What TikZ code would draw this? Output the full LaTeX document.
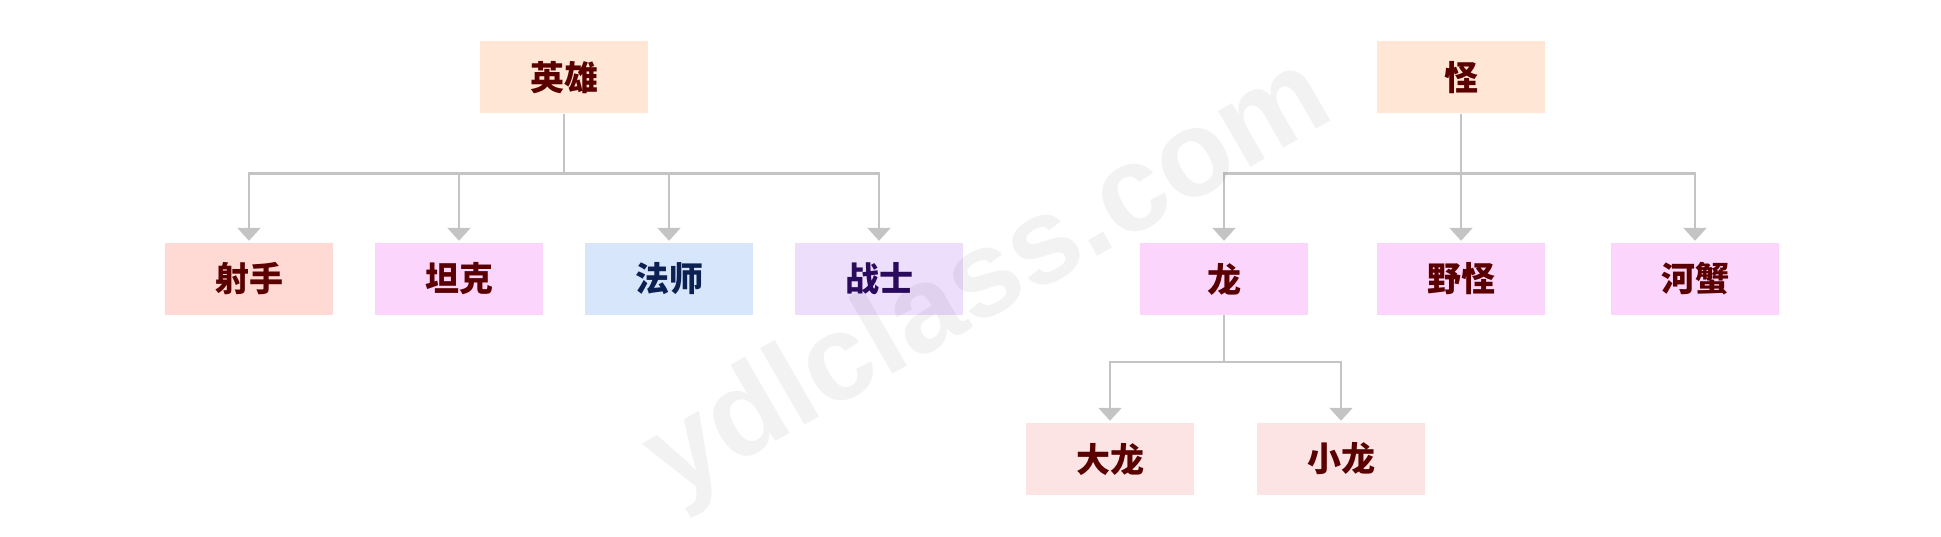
\documentclass[tikz,border=0pt]{standalone}
\usepackage{fontspec}
\newfontfamily\cjk{Noto Sans CJK SC}
\newfontfamily\wmfont{Liberation Sans}
\usetikzlibrary{arrows.meta}
\definecolor{peach}{RGB}{255,230,213}
\definecolor{salmon}{RGB}{255,218,213}
\definecolor{pinkm}{RGB}{252,213,252}
\definecolor{lblue}{RGB}{216,230,252}
\definecolor{lviolet}{RGB}{237,222,252}
\definecolor{lrose}{RGB}{253,228,228}
\definecolor{tred}{RGB}{90,0,0}
\definecolor{tnavy}{RGB}{12,32,82}
\definecolor{tpurple}{RGB}{42,10,92}
\definecolor{conn}{RGB}{196,196,196}
\begin{document}
\begin{tikzpicture}[x=1pt,y=-1pt,
  box/.style={minimum width=168pt,minimum height=72pt,inner sep=0pt,
    font=\cjk\bfseries\fontsize{34}{34}\selectfont,text=tred},
  link/.style={draw=conn,line width=2.5pt,
    -{Triangle[width=23pt,length=13pt]},shorten >=2pt}]
\useasboundingbox (0,0) rectangle (1941,537);
\node[box,fill=peach] (hero) at (564,77.5) {英雄};
\node[box,fill=peach] (mon) at (1461,77.5) {怪};
\node[box,fill=salmon] (shooter) at (249,279) {射手};
\node[box,fill=pinkm] (tank) at (459,279) {坦克};
\node[box,fill=lblue,text=tnavy] (mage) at (669,279) {法师};
\node[box,fill=lviolet,text=tpurple] (warrior) at (879,279) {战士};
\node[box,fill=pinkm] (dragon) at (1224,279) {龙};
\node[box,fill=pinkm] (wild) at (1461,279) {野怪};
\node[box,fill=pinkm] (crab) at (1695,279) {河蟹};
\node[box,fill=lrose] (bigd) at (1110,459) {大龙};
\node[box,fill=lrose] (smalld) at (1341,459) {小龙};
\foreach \c in {shooter,tank,mage,warrior}
  \draw[link] (hero.south) -- ++(0,60) -| (\c.north);
\foreach \c in {dragon,wild,crab}
  \draw[link] (mon.south) -- ++(0,60) -| (\c.north);
\foreach \c in {bigd,smalld}
  \draw[link] (dragon.south) -- ++(0,47) -| (\c.north);
\node[rotate=30,font=\wmfont\bfseries\fontsize{122}{122}\selectfont,
  text=black,text opacity=0.05] (wm) at (990,282) {ydlclass.com};
\end{tikzpicture}
\end{document}
